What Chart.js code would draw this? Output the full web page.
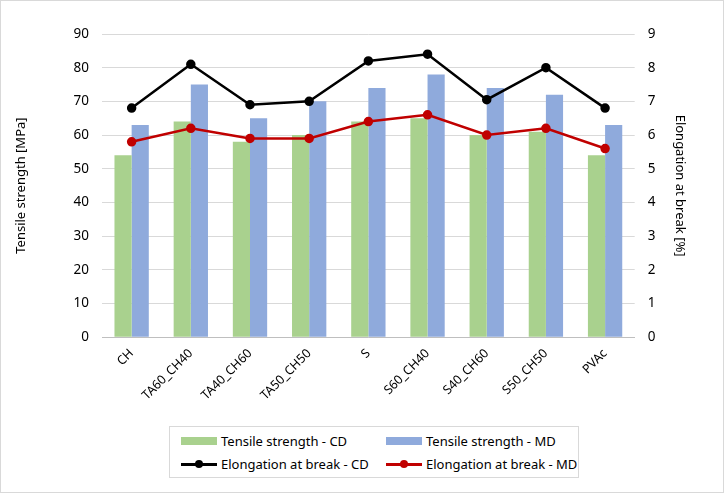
<!DOCTYPE html>
<html>
<head>
<meta charset="utf-8">
<script src="https://cdn.jsdelivr.net/npm/chart.js@4.4.1/dist/chart.umd.min.js"></script>
<style>
  html, body { margin:0; padding:0; background:#fff; }
  #wrap { position:relative; width:722px; height:491px; border:1px solid #d9d9d9; font-family:'Noto Sans', sans-serif; }
  #chart-box { position:absolute; left:0; top:0; width:722px; height:411px; }
  #legenda { position:absolute; left:168px; top:425px; width:408px; height:50px; border:1px solid #d9d9d9;
             font-size:13px; color:#000; }
  .lg-item { position:absolute; display:flex; align-items:center; white-space:nowrap; }
  .lg-rect { width:36px; height:8px; margin-right:4px; }
  .lg-line { position:relative; width:36px; height:3px; margin-right:4px; }
  .lg-line::after { content:''; position:absolute; left:14px; top:-2.5px; width:8px; height:8px; border-radius:50%; background:inherit; }
</style>
</head>
<body>
<div id="wrap">
  <div id="chart-box"><canvas id="grafico"></canvas></div>
  <div id="legenda">
    <div class="lg-item" style="left:11px;top:5px"><div class="lg-rect" style="background:#a9d18e"></div>Tensile strength - CD</div>
    <div class="lg-item" style="left:216px;top:5px"><div class="lg-rect" style="background:#8faadc"></div>Tensile strength - MD</div>
    <div class="lg-item" style="left:11px;top:28px"><div class="lg-line" style="background:#000"></div>Elongation at break - CD</div>
    <div class="lg-item" style="left:216px;top:28px"><div class="lg-line" style="background:#c00000"></div>Elongation at break - MD</div>
  </div>
</div>
<script>
// ── Dados ──────────────────────────────────────────────
const categorias = ['CH','TA60_CH40','TA40_CH60','TA50_CH50','S','S60_CH40','S40_CH60','S50_CH50','PVAc'];
const tensaoCD   = [54, 64, 58, 60, 64, 65, 60, 61, 54];
const tensaoMD   = [63, 75, 65, 70, 74, 78, 74, 72, 63];
const alongCD    = [6.8, 8.1, 6.9, 7.0, 8.2, 8.4, 7.05, 8.0, 6.8];
const alongMD    = [5.8, 6.2, 5.9, 5.9, 6.4, 6.6, 6.0, 6.2, 5.6];

const FONTE = { family:"'Noto Sans', sans-serif", size:12.5 };
const GRADE = '#d9d9d9';

new Chart(document.getElementById('grafico'), {
  type: 'bar',
  data: {
    labels: categorias,
    datasets: [
      { label:'Tensile strength - CD', data:tensaoCD, yAxisID:'y', backgroundColor:'#a9d18e', order:2,
        categoryPercentage:0.58, barPercentage:1 },
      { label:'Tensile strength - MD', data:tensaoMD, yAxisID:'y', backgroundColor:'#8faadc', order:3,
        categoryPercentage:0.58, barPercentage:1 },
      { type:'line', label:'Elongation at break - CD', data:alongCD, yAxisID:'y2', borderColor:'#000', backgroundColor:'#000',
        borderWidth:2.5, pointRadius:3.5, pointHoverRadius:3.5, tension:0, order:1 },
      { type:'line', label:'Elongation at break - MD', data:alongMD, yAxisID:'y2', borderColor:'#c00000', backgroundColor:'#c00000',
        borderWidth:2.5, pointRadius:3.5, pointHoverRadius:3.5, tension:0, order:0 },
    ]
  },
  options: {
    responsive:true, maintainAspectRatio:false, animation:false,
    layout:{ padding:{ left:8, right:27, top:33, bottom:0 } },
    plugins:{ legend:{ display:false }, tooltip:{ enabled:false } },
    scales:{
      x:{
        grid:{ display:false, drawTicks:false },
        border:{ color:'#bfbfbf', width:1 },
        ticks:{ font:FONTE, color:'#000', maxRotation:45, minRotation:45, padding:9 }
      },
      y:{
        position:'left', min:0, max:90,
        ticks:{ stepSize:10, font:{...FONTE, size:13.5}, color:'#000', padding:13 },
        grid:{ color:GRADE, drawTicks:false },
        border:{ display:false },
        title:{ display:true, text:'Tensile strength [MPa]', font:{...FONTE, size:13}, color:'#000', padding:{ bottom:32 } }
      },
      y2:{
        position:'right', min:0, max:9,
        ticks:{ stepSize:1, font:{...FONTE, size:13.5}, color:'#000', padding:13 },
        grid:{ display:false, drawTicks:false },
        border:{ display:false },
        title:{ display:true, text:'Elongation at break [%]', font:{...FONTE, size:13}, color:'#000', padding:{ top:8 } }
      }
    }
  }
});
</script>
</body>
</html>
